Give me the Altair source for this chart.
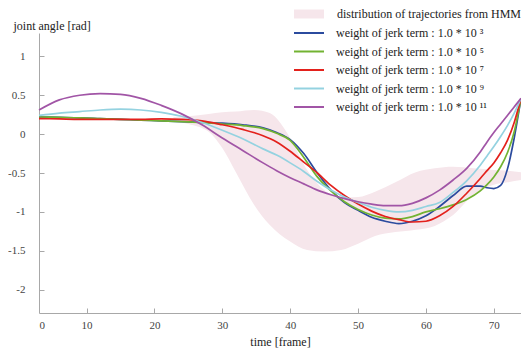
import altair as alt
import pandas as pd

# ---- data ----
frames = [3, 6, 9, 12, 15, 18, 21, 24, 27, 30, 33, 36, 38, 40, 42, 44, 46, 48, 50,
          52, 54, 56, 58, 60, 62, 64, 66, 68, 69, 70, 71, 72, 73, 74]

w1e3 = [0.22, 0.215, 0.21, 0.20, 0.19, 0.18, 0.17, 0.16, 0.15, 0.14, 0.12, 0.08, 0.02, -0.07,
        -0.25, -0.50, -0.72, -0.88, -0.98, -1.07, -1.12, -1.15, -1.12, -1.05, -0.93, -0.79,
        -0.67, -0.67, -0.69, -0.70, -0.66, -0.45, -0.05, 0.46]
w1e5 = [0.22, 0.215, 0.21, 0.20, 0.19, 0.18, 0.17, 0.16, 0.15, 0.13, 0.11, 0.07, 0.01, -0.08,
        -0.30, -0.55, -0.73, -0.87, -0.97, -1.04, -1.08, -1.09, -1.06, -1.00, -0.96, -0.91,
        -0.84, -0.73, -0.65, -0.55, -0.42, -0.24, 0.03, 0.46]
w1e7 = [0.20, 0.195, 0.19, 0.19, 0.19, 0.19, 0.195, 0.19, 0.17, 0.12, 0.06, -0.02, -0.10, -0.22,
        -0.36, -0.50, -0.66, -0.79, -0.90, -0.99, -1.06, -1.10, -1.13, -1.12, -1.05, -0.93,
        -0.76, -0.57, -0.47, -0.37, -0.24, -0.08, 0.15, 0.46]
w1e9 = [0.24, 0.27, 0.29, 0.31, 0.32, 0.31, 0.28, 0.23, 0.15, 0.05, -0.06, -0.19, -0.27, -0.37,
        -0.48, -0.61, -0.72, -0.81, -0.88, -0.94, -0.98, -1.00, -0.98, -0.93, -0.88, -0.75,
        -0.60, -0.40, -0.28, -0.16, -0.03, 0.11, 0.27, 0.46]
w1e11 = [0.31, 0.44, 0.50, 0.52, 0.51, 0.46, 0.37, 0.26, 0.12, -0.05, -0.21, -0.37, -0.47, -0.56,
         -0.64, -0.72, -0.78, -0.83, -0.87, -0.90, -0.92, -0.92, -0.89, -0.82, -0.72, -0.59,
         -0.44, -0.23, -0.10, 0.02, 0.13, 0.24, 0.35, 0.46]

band_frames = [22.8, 25, 28, 30, 32, 34.7, 37, 38.5, 40, 42.5, 45, 47.5, 50, 52.5, 55.5,
               58.5, 61.3, 64, 67, 70, 72, 74]
band_upper = [0.22, 0.23, 0.26, 0.28, 0.29, 0.31, 0.27, 0.15, -0.05, -0.46, -0.72, -0.82,
              -0.81, -0.74, -0.62, -0.49, -0.44, -0.42, -0.44, -0.46, -0.47, -0.49]
band_lower = [0.17, 0.13, 0.03, -0.18, -0.49, -0.91, -1.17, -1.29, -1.38, -1.49, -1.51,
              -1.49, -1.41, -1.31, -1.26, -1.23, -1.18, -1.04, -0.78, -0.65, -0.62, -0.59]

series_labels = [
    "weight of jerk term : 1.0 * 10 ³",
    "weight of jerk term : 1.0 * 10 ⁵",
    "weight of jerk term : 1.0 * 10 ⁷",
    "weight of jerk term : 1.0 * 10 ⁹",
    "weight of jerk term : 1.0 * 10 ¹¹",
]
series_colors = ["#2b4b9e", "#72b332", "#e3211c", "#94d2e0", "#a155a6"]
band_label = "distribution of trajectories from HMM"

x_ticks = [3, 10, 20, 30, 40, 50, 60, 70]
y_ticks = [-2, -1.5, -1, -0.5, 0, 0.5, 1]

# ---- tables ----
rows = []
for lab, vals in zip(series_labels, [w1e3, w1e5, w1e7, w1e9, w1e11]):
    for f, v in zip(frames, vals):
        rows.append({"frame": f, "angle": v, "series": lab})
lines_df = pd.DataFrame(rows)
band_df = pd.DataFrame({"frame": band_frames, "lo": band_lower, "hi": band_upper,
                        "band": [band_label] * len(band_frames)})

FONT = "Liberation Serif"
W, H = 482, 280
xscale = alt.Scale(domain=[3, 74], nice=False, zero=False)
yscale = alt.Scale(domain=[-2.3, 1.3], nice=False, zero=False)

band = alt.Chart(band_df).mark_area(interpolate="monotone", opacity=1).encode(
    x=alt.X("frame:Q", scale=xscale,
            axis=alt.Axis(values=x_ticks, ticks=False, labelPadding=6,
                          labelExpr="datum.value < 5 ? '0' : datum.label",
                          title="time [frame]", titleY=28, titleBaseline="middle")),
    y=alt.Y("lo:Q", scale=yscale,
            axis=alt.Axis(values=y_ticks, ticks=False, labelPadding=14,
                          labelExpr="'' + datum.value",
                          title="joint angle [rad]", titleAngle=0, titleAlign="left",
                          titleBaseline="middle", titleX=-26, titleY=-8)),
    y2="hi:Q",
    fill=alt.Fill("band:N", scale=alt.Scale(domain=[band_label], range=["#f6e6eb"]),
                  title=None,
                  legend=alt.Legend(orient="none", legendX=264, legendY=-25,
                                    symbolType="M-3,-0.9H3V0.9H-3Z", symbolSize=100,
                                    symbolStrokeWidth=0, labelOffset=22)),
)

lines = alt.Chart(lines_df).mark_line(interpolate="monotone", strokeWidth=1.7).encode(
    x=alt.X("frame:Q", scale=xscale,
            axis=alt.Axis(orient="top", offset=-H, values=x_ticks[1:], labels=False,
                          domain=False, tickSize=5, title=None)),
    y=alt.Y("angle:Q", scale=yscale,
            axis=alt.Axis(orient="right", offset=-W, values=y_ticks, labels=False,
                          domain=False, tickSize=5, title=None)),
    stroke=alt.Stroke("series:N",
                      scale=alt.Scale(domain=series_labels, range=series_colors),
                      title=None,
                      legend=alt.Legend(orient="none", legendX=264, legendY=-6,
                                        symbolType="M-3,0H3", symbolSize=100,
                                        symbolStrokeWidth=2, labelOffset=21,
                                        rowPadding=6.5)),
)

chart = alt.layer(band, lines).resolve_axis(x="independent", y="independent").properties(
    width=W, height=H,
    autosize=alt.AutoSizeParams(type="none"),
    padding={"left": 31, "top": 25, "right": 0, "bottom": 38},
).configure_view(stroke=None).configure_axis(
    domainColor="#a8a8a8", tickColor="#a8a8a8", labelFont=FONT, labelFontSize=11,
    labelColor="#444", titleFont=FONT, titleFontSize=12, titleFontWeight="normal",
    titleColor="#222", grid=False,
).configure_legend(
    labelFont=FONT, labelFontSize=12, labelColor="#222", labelLimit=400, padding=0,
    rowPadding=6.5,
)

chart.save("out.html", embed_options={"renderer": "svg", "actions": False})
